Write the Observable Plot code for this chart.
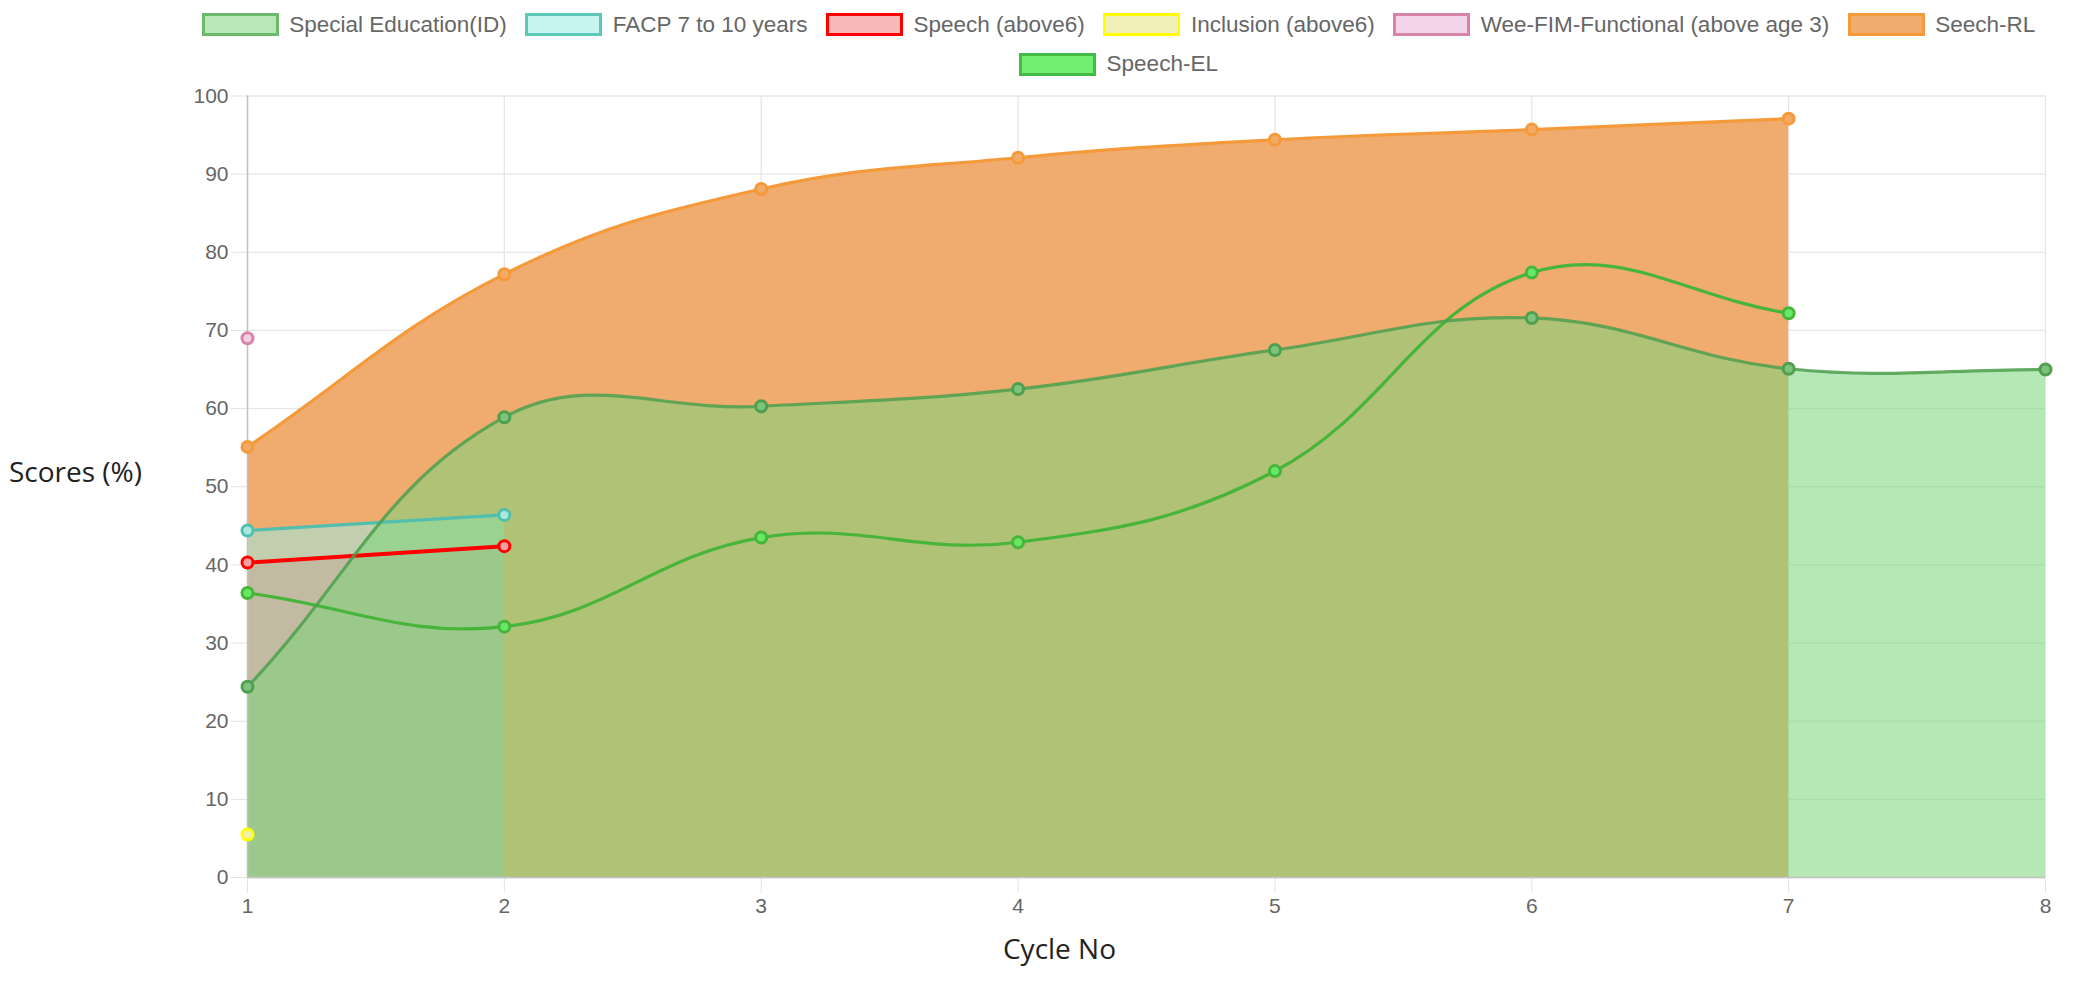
<!DOCTYPE html>
<html><head><meta charset="utf-8">
<script src="https://cdn.jsdelivr.net/npm/d3@7"></script>
<script src="https://cdn.jsdelivr.net/npm/@observablehq/plot@0.6"></script>
<style>
html,body{margin:0;padding:0;background:#fff;}
#chart{width:2075px;height:984px;position:relative;overflow:hidden;background:#fff;}
#legend{box-sizing:border-box;height:80px;padding:13px 0 0 162px;display:flex;flex-wrap:wrap;justify-content:center;column-gap:18.5px;row-gap:16.5px;align-content:flex-start;font-family:'Liberation Sans',Arial,sans-serif;font-size:22.5px;color:#666;}
.item{display:flex;align-items:center;height:23px;white-space:nowrap;}
.box{box-sizing:border-box;width:77px;height:23px;border:3px solid;margin-right:10.5px;}
</style></head><body><div id="chart"><div id="legend"></div><div id="plot"></div></div>
<script>
// ---- data ----
const cycles = [1, 2, 3, 4, 5, 6, 7, 8];
const specialEducation = [24.4, 58.9, 60.3, 62.5, 67.5, 71.6, 65.1, 65.0];
const facp7to10 = [44.4, 46.4];
const speechAbove6 = [40.3, 42.4];
const inclusionAbove6 = [5.5];
const weeFimFunctional = [69.0];
const seechRL = [55.1, 77.2, 88.1, 92.1, 94.4, 95.7, 97.1];
const speechEL = [36.4, 32.1, 43.5, 42.9, 52.0, 77.4, 72.2];
const yTicks = [0, 10, 20, 30, 40, 50, 60, 70, 80, 90, 100];
const seriesNames = ["Special Education(ID)", "FACP 7 to 10 years", "Speech (above6)", "Inclusion (above6)", "Wee-FIM-Functional (above age 3)", "Seech-RL", "Speech-EL"];
const legendFill = ["#b8e8b8", "#c8f5ef", "#f8b8b8", "#f0f0b8", "#f4d4ea", "#f0ab6f", "#70ee70"];
const legendStroke = ["#6cb86c", "#5ec8b8", "#ff0000", "#ffff00", "#d884a8", "#f59a3a", "#44bb44"];

// ---- legend ----
const legend = document.getElementById("legend");
seriesNames.forEach((name, i) => {
  const it = document.createElement("div"); it.className = "item";
  const b = document.createElement("div"); b.className = "box";
  b.style.background = legendFill[i]; b.style.borderColor = legendStroke[i];
  const t = document.createElement("span"); t.textContent = name;
  it.appendChild(b); it.appendChild(t); legend.appendChild(it);
});

// ---- Chart.js-like spline curve (tension 0.4) ----
function CJCurve(context) { this._context = context; }
CJCurve.prototype = {
  areaStart() { this._line = 0; },
  areaEnd() { this._line = NaN; },
  lineStart() { this._pts = []; },
  point(x, y) { this._pts.push([+x, +y]); },
  lineEnd() {
    const p = this._pts, n = p.length, c = this._context;
    if (n) {
      if (this._line) c.lineTo(p[0][0], p[0][1]); else c.moveTo(p[0][0], p[0][1]);
      if (n === 2) c.lineTo(p[1][0], p[1][1]);
      else if (n > 2) {
        const t = 0.4;
        const cps = p.map((cur, i) => {
          const prev = p[i - 1] || cur, next = p[i + 1] || cur;
          const d01 = Math.hypot(cur[0] - prev[0], cur[1] - prev[1]);
          const d12 = Math.hypot(next[0] - cur[0], next[1] - cur[1]);
          let s01 = d01 / (d01 + d12), s12 = d12 / (d01 + d12);
          if (!isFinite(s01)) s01 = 0; if (!isFinite(s12)) s12 = 0;
          const fa = t * s01, fb = t * s12;
          return {
            prev: [cur[0] - fa * (next[0] - prev[0]), cur[1] - fa * (next[1] - prev[1])],
            next: [cur[0] + fb * (next[0] - prev[0]), cur[1] + fb * (next[1] - prev[1])]
          };
        });
        for (let i = 1; i < n; i++) c.bezierCurveTo(cps[i - 1].next[0], cps[i - 1].next[1], cps[i].prev[0], cps[i].prev[1], p[i][0], p[i][1]);
      }
    }
    if (this._line || (this._line !== 0 && n === 1)) c.closePath();
    this._line = 1 - this._line;
  }
};
const cjCurve = (ctx) => new CJCurve(ctx);

const rows = (arr) => arr.map((v, i) => ({x: cycles[i], y: v}));
const se = rows(specialEducation), fa = rows(facp7to10), sp = rows(speechAbove6),
      inc = rows(inclusionAbove6), wee = rows(weeFimFunctional), rl = rows(seechRL), el = rows(speechEL);

const labelFont = "'Segoe UI', 'Open Sans', sans-serif";
const R = 5.5;

const chart = Plot.plot({
  width: 2075, height: 904,
  marginLeft: 247, marginRight: 30, marginTop: 15.5, marginBottom: 107,
  style: {fontFamily: "'Liberation Sans', Arial, sans-serif", fontSize: "21px", color: "#666", background: "#fff"},
  x: {domain: [1, 8]},
  y: {domain: [0, 100]},
  marks: [
    Plot.gridY(yTicks, {stroke: "#e6e6e6", strokeOpacity: 1, strokeWidth: 1.3}),
    Plot.gridX(cycles, {stroke: "#e6e6e6", strokeOpacity: 1, strokeWidth: 1.3}),
    Plot.axisY(yTicks, {tickSize: 16, tickPadding: 3, stroke: "#e3e3e3", fill: "#666", label: null, fontSize: 21}),
    Plot.axisX(cycles, {tickSize: 16, tickPadding: 5, stroke: "#e3e3e3", fill: "#666", label: null, fontSize: 21, tickFormat: d => String(d)}),
    // fills (drawn last dataset first, like Chart.js)
    Plot.areaY(rl, {x: "x", y: "y", curve: cjCurve, fill: "#f0ab6f"}),
    Plot.areaY(sp, {x: "x", y: "y", curve: cjCurve, fill: "#ff0000", fillOpacity: 0.26}),
    Plot.areaY(fa, {x: "x", y: "y", curve: cjCurve, fill: "rgb(155,237,226)", fillOpacity: 0.55}),
    Plot.areaY(se, {x: "x", y: "y", curve: cjCurve, fill: "rgb(122,213,122)", fillOpacity: 0.55}),
    // axis lines
    Plot.ruleX([1], {stroke: "#c2c2c2", strokeWidth: 1.5}),
    Plot.ruleY([0], {stroke: "#c2c2c2", strokeWidth: 1.5}),
    // lines + points
    Plot.line(el, {x: "x", y: "y", curve: cjCurve, stroke: "#46b53a", strokeWidth: 3.2}),
    Plot.dot(el, {x: "x", y: "y", r: R, fill: "#66e866", stroke: "#46b53a", strokeWidth: 3}),
    Plot.line(rl, {x: "x", y: "y", curve: cjCurve, stroke: "#f59a3a", strokeWidth: 3.2}),
    Plot.dot(rl, {x: "x", y: "y", r: R, fill: "#f3aa66", stroke: "#f59a3a", strokeWidth: 3}),
    Plot.dot(wee, {x: "x", y: "y", r: R, fill: "#f2cfe2", stroke: "#d884a8", strokeWidth: 3}),
    Plot.dot(inc, {x: "x", y: "y", r: R, fill: "#f0f0b0", stroke: "#ffff00", strokeWidth: 3}),
    Plot.line(sp, {x: "x", y: "y", stroke: "#ff0000", strokeWidth: 4}),
    Plot.dot(sp, {x: "x", y: "y", r: R, fill: "#f4a0a0", stroke: "#ff0000", strokeWidth: 3}),
    Plot.line(fa, {x: "x", y: "y", stroke: "#52bfae", strokeWidth: 3.2}),
    Plot.dot(fa, {x: "x", y: "y", r: R, fill: "#a9e8de", stroke: "#52bfae", strokeWidth: 3}),
    Plot.line(se, {x: "x", y: "y", curve: cjCurve, stroke: "#4f9f4f", strokeOpacity: 0.85, strokeWidth: 3.2}),
    Plot.dot(se, {x: "x", y: "y", r: R, fill: "#7cc47c", stroke: "#4f9f4f", strokeWidth: 3}),
    // axis titles
    Plot.text(["Scores (%)"], {frameAnchor: "left", dx: -172, dy: -14, textAnchor: "middle", fill: "#222", fontSize: 28, fontFamily: labelFont}),
    Plot.text(["Cycle No"], {frameAnchor: "bottom", dx: -87, dy: 81, textAnchor: "middle", fill: "#222", fontSize: 28, fontFamily: labelFont})
  ]
});
document.getElementById("plot").appendChild(chart);
</script></body></html>
